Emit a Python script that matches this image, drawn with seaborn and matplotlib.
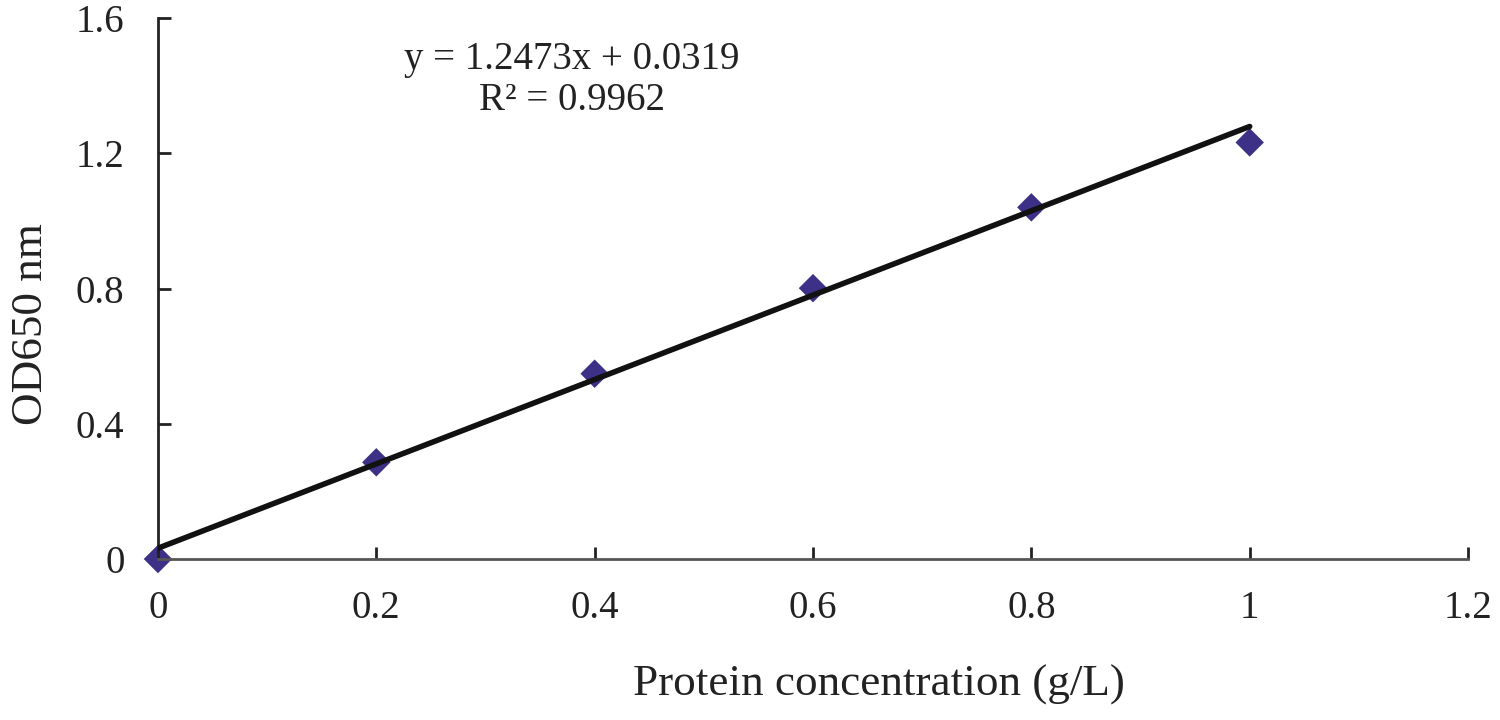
import matplotlib
matplotlib.use("Agg")
import matplotlib.pyplot as plt
import seaborn as sns
import numpy as np
import pandas as pd

# data
concentration = [0.0, 0.2, 0.4, 0.6, 0.8, 1.0]
od650 = [0.0, 0.286, 0.548, 0.801, 1.040, 1.232]
slope = 1.2473
intercept = 0.0319
r_squared = 0.9962
x_ticks = [0, 0.2, 0.4, 0.6, 0.8, 1, 1.2]
y_ticks = [0, 0.4, 0.8, 1.2, 1.6]

df = pd.DataFrame({'conc': concentration, 'od': od650})
fit_x = np.array([concentration[0], concentration[-1]])
fit_df = pd.DataFrame({'conc': fit_x, 'od': slope * fit_x + intercept})

sns.set_style('white')
plt.rcParams['font.family'] = ['Liberation Serif', 'DejaVu Serif']

fig = plt.figure(figsize=(15, 7.2), dpi=100)
ax = fig.add_axes([0.1053, 0.2236, 0.8734, 0.7514])

# markers first, fit line drawn on top
sns.scatterplot(x='conc', y='od', data=df, ax=ax, marker='D', s=210,
                color='#3d3187', edgecolor='none', zorder=2, clip_on=False)
sns.lineplot(x='conc', y='od', data=fit_df, ax=ax, color='#111111',
             linewidth=4, zorder=3)

ax.set_xlim(0, 1.2)
ax.set_ylim(0, 1.6)
ax.set_xticks(x_ticks)
ax.set_xticklabels(['0', '0.2', '0.4', '0.6', '0.8', '1', '1.2'])
ax.set_yticks(y_ticks)
ax.set_yticklabels(['0', '0.4', '0.8', '1.2', '1.6'])

ax.spines['top'].set_visible(False)
ax.spines['right'].set_visible(False)
ax.spines['left'].set_color('#222222')
ax.spines['bottom'].set_color('#555555')
ax.spines['left'].set_linewidth(2)
ax.spines['bottom'].set_linewidth(2)
ax.tick_params(axis='both', which='major', bottom=True, left=True, direction='in',
               length=9, width=2, colors='#222222', labelsize=28,
               labelcolor='#222222')
ax.tick_params(axis='x', pad=22)
ax.tick_params(axis='y', pad=24)

ax.set_xlabel('Protein concentration (g/L)', fontsize=32.5, color='#222222')
ax.set_ylabel('OD650 nm', fontsize=32.5, color='#222222')
ax.xaxis.set_label_coords(0.55, -0.195)
ax.yaxis.set_label_coords(-0.082, 0.435)

ax.text(0.379, 1.478, 'y = %.4fx + %.4f' % (slope, intercept), ha='center', va='center',
        fontsize=28, color='#222222')
ax.text(0.379, 1.357, 'R² = %.4f' % r_squared, ha='center', va='center',
        fontsize=28, color='#222222')

fig.savefig('out.png', dpi=100)
